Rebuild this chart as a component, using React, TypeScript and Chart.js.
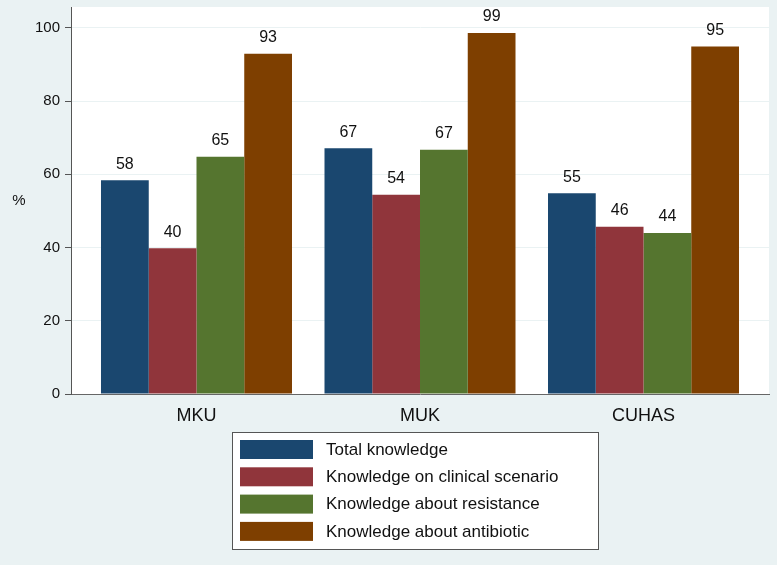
import React, { useEffect, useRef } from "react";
import { Chart, registerables } from "chart.js";

Chart.register(...registerables);

const categories = ["MKU", "MUK", "CUHAS"];
const seriesNames = [
  "Total knowledge",
  "Knowledge on clinical scenario",
  "Knowledge about resistance",
  "Knowledge about antibiotic",
];
const totalKnowledge = [58.4, 67.1, 54.8];
const clinicalScenario = [39.8, 54.4, 45.7];
const aboutResistance = [64.8, 66.7, 44.0];
const aboutAntibiotic = [92.9, 98.6, 94.9];
const yTickValues = [0, 20, 40, 60, 80, 100];
const yAxisTitle = "%";

const seriesColors = ["#1a476f", "#90353b", "#55752f", "#7e3f00"];
const FONT = "'Liberation Sans', Arial, Helvetica, sans-serif";
const BG = "#eaf2f3";

export default function App() {
  const ref = useRef<HTMLCanvasElement | null>(null);

  useEffect(() => {
    document.body.style.margin = "0";
    const canvas = ref.current;
    if (!canvas) return;
    const allSeries = [totalKnowledge, clinicalScenario, aboutResistance, aboutAntibiotic];

    const bgPlugin = {
      id: "bgPlugin",
      beforeDraw(chart: any) {
        const { ctx, chartArea } = chart;
        ctx.save();
        ctx.fillStyle = BG;
        ctx.fillRect(0, 0, chart.width, chart.height);
        ctx.fillStyle = "#ffffff";
        ctx.fillRect(chartArea.left, chartArea.top, chartArea.right - chartArea.left, chartArea.bottom - chartArea.top);
        ctx.restore();
      },
    };

    const labelPlugin = {
      id: "labelPlugin",
      afterDatasetsDraw(chart: any) {
        const { ctx, chartArea } = chart;
        ctx.save();
        ctx.font = `16px ${FONT}`;
        ctx.fillStyle = "#111111";
        ctx.textAlign = "center";
        ctx.textBaseline = "bottom";
        chart.data.datasets.forEach((ds: any, di: number) => {
          const meta = chart.getDatasetMeta(di);
          meta.data.forEach((el: any, i: number) => {
            const v = ds.data[i].y;
            ctx.fillText(String(Math.round(v)), el.x, el.y - 8);
          });
        });
        ctx.font = `15px ${FONT}`;
        ctx.textBaseline = "middle";
        ctx.fillText(yAxisTitle, 19, (chartArea.top + chartArea.bottom) / 2);
        ctx.restore();
      },
    };

    const legendPlugin = {
      id: "customLegend",
      afterDraw(chart: any) {
        const { ctx } = chart;
        ctx.save();
        const bx = 232.5, by = 432.5, bw = 366, bh = 117;
        ctx.fillStyle = "#ffffff";
        ctx.fillRect(bx, by, bw, bh);
        ctx.strokeStyle = "#555555";
        ctx.lineWidth = 1;
        ctx.strokeRect(bx, by, bw, bh);
        ctx.font = `17px ${FONT}`;
        ctx.textAlign = "left";
        ctx.textBaseline = "middle";
        chart.data.datasets.forEach((ds: any, i: number) => {
          const y = 440 + i * 27.3;
          ctx.fillStyle = ds.backgroundColor;
          ctx.fillRect(240, y, 73, 19);
          ctx.fillStyle = "#111111";
          ctx.fillText(ds.label, 326, y + 10);
        });
        ctx.restore();
      },
    };

    const chart = new Chart(canvas, {
      type: "bar",
      data: {
        datasets: seriesNames.map((name, si) => ({
          label: name,
          data: categories.map((_, ci) => ({ x: ci, y: allSeries[si][ci] })),
          backgroundColor: seriesColors[si],
          borderWidth: 0,
          categoryPercentage: 191 / 223.5,
          barPercentage: 1,
        })),
      },
      options: {
        responsive: false,
        animation: false,
        layout: { padding: { top: 7, right: 8, left: 0, bottom: 0 } },
        plugins: {
          legend: { display: false },
          tooltip: { enabled: false },
        },
        scales: {
          x: {
            type: "linear",
            offset: false,
            min: -0.5615,
            max: 2.5615,
            afterFit(scale: any) {
              scale.height = 171;
              scale.paddingLeft = 0;
              scale.paddingRight = 0;
            },
            afterBuildTicks(scale: any) {
              scale.ticks = categories.map((_, i) => ({ value: i }));
            },
            grid: { display: false, drawTicks: false, offset: false },
            border: { display: true, color: "#666666", width: 1 },
            ticks: {
              padding: 11,
              color: "#111111",
              font: { family: FONT, size: 18 },
              callback: (v: any) => categories[v] ?? "",
              maxRotation: 0,
              autoSkip: false,
            },
          },
          y: {
            min: 0,
            max: 105.7,
            afterFit(scale: any) {
              scale.width = 71;
              scale.paddingTop = 0;
              scale.paddingBottom = 0;
            },
            afterBuildTicks(scale: any) {
              scale.ticks = yTickValues.map((v) => ({ value: v }));
            },
            grid: {
              color: BG,
              lineWidth: 1,
              drawTicks: true,
              tickLength: 6,
              tickColor: "#555555",
            },
            border: { display: true, color: "#555555", width: 1 },
            ticks: {
              padding: 5,
              color: "#111111",
              font: { family: FONT, size: 15 },
            },
          },
        },
      },
      plugins: [bgPlugin, labelPlugin, legendPlugin],
    } as any);

    return () => chart.destroy();
  }, []);

  return (
    <canvas
      ref={ref}
      width={777}
      height={565}
      style={{ display: "block", width: 777, height: 565 }}
    />
  );
}
